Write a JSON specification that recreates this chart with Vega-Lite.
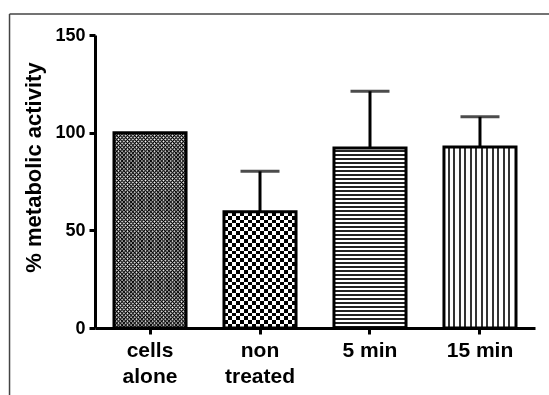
{
"$schema": "https://vega.github.io/schema/vega-lite/v6.json",
"width": 440,
"height": 293,
"autosize": {"type": "none"},
"padding": {"left": 95, "top": 35, "right": 14, "bottom": 67},
"background": "white",
"config": {
  "view": {"stroke": null},
  "font": "Liberation Sans",
  "axis": {"labelFont": "Liberation Sans", "titleFont": "Liberation Sans", "labelFontWeight": "bold", "titleFontWeight": "bold", "labelColor": "#000", "titleColor": "#000", "domainColor": "#000", "tickColor": "#000", "domainWidth": 3, "tickWidth": 3, "tickSize": 6, "grid": false}
},
"data": {"values": [
  {"cat": "cells alone", "value": 100},
  {"cat": "non treated", "value": 59.5, "upper": 80.2},
  {"cat": "5 min", "value": 92.2, "upper": 121.2},
  {"cat": "15 min", "value": 92.6, "upper": 108.1}
]},
"layer": [
 {
  "encoding": {
    "x": {"field": "cat", "type": "nominal", "title": null,
      "scale": {"domain": ["cells alone", "non treated", "5 min", "15 min"], "paddingInner": 0.345, "paddingOuter": 0.1727},
      "axis": {"labelAngle": 0, "labelFontSize": 21, "labelPadding": 5, "labelLineHeight": 26, "labelExpr": "datum.value == 'cells alone' ? ['cells', 'alone'] : datum.value == 'non treated' ? ['non', 'treated'] : datum.value"}},
    "y": {"field": "value", "type": "quantitative", "title": "% metabolic activity",
      "scale": {"domain": [0, 150], "nice": false},
      "axis": {"values": [0, 50, 100, 150], "labelFontSize": 18, "labelPadding": 4, "titleFontSize": 22, "titlePadding": 9, "titleY": 132}}
  },
  "layer": [
  {"transform": [{"filter": "datum.cat == 'cells alone'"}],
   "mark": {"type": "bar", "fill": {"gradient": "linear", "x1": 0, "y1": 0, "x2": 1, "y2": 0, "stops": [
     {"offset": 0.0125, "color": "#000"}, {"offset": 0.0375, "color": "#fff"}, {"offset": 0.0625, "color": "#000"}, {"offset": 0.0875, "color": "#fff"},
     {"offset": 0.1125, "color": "#000"}, {"offset": 0.1375, "color": "#fff"}, {"offset": 0.1625, "color": "#000"}, {"offset": 0.1875, "color": "#fff"},
     {"offset": 0.2125, "color": "#000"}, {"offset": 0.2375, "color": "#fff"}, {"offset": 0.2625, "color": "#000"}, {"offset": 0.2875, "color": "#fff"},
     {"offset": 0.3125, "color": "#000"}, {"offset": 0.3375, "color": "#fff"}, {"offset": 0.3625, "color": "#000"}, {"offset": 0.3875, "color": "#fff"},
     {"offset": 0.4125, "color": "#000"}, {"offset": 0.4375, "color": "#fff"}, {"offset": 0.4625, "color": "#000"}, {"offset": 0.4875, "color": "#fff"},
     {"offset": 0.5125, "color": "#000"}, {"offset": 0.5375, "color": "#fff"}, {"offset": 0.5625, "color": "#000"}, {"offset": 0.5875, "color": "#fff"},
     {"offset": 0.6125, "color": "#000"}, {"offset": 0.6375, "color": "#fff"}, {"offset": 0.6625, "color": "#000"}, {"offset": 0.6875, "color": "#fff"},
     {"offset": 0.7125, "color": "#000"}, {"offset": 0.7375, "color": "#fff"}, {"offset": 0.7625, "color": "#000"}, {"offset": 0.7875, "color": "#fff"},
     {"offset": 0.8125, "color": "#000"}, {"offset": 0.8375, "color": "#fff"}, {"offset": 0.8625, "color": "#000"}, {"offset": 0.8875, "color": "#fff"},
     {"offset": 0.9125, "color": "#000"}, {"offset": 0.9375, "color": "#fff"}, {"offset": 0.9625, "color": "#000"}, {"offset": 0.9875, "color": "#fff"}
   ]}}},
  {"transform": [{"filter": "datum.cat == 'cells alone'"}],
   "mark": {"type": "bar", "blend": "difference", "fill": {"gradient": "linear", "x1": 0, "y1": 0, "x2": 0, "y2": 1, "stops": [
     {"offset": 0.005, "color": "#000"}, {"offset": 0.015, "color": "#fff"}, {"offset": 0.025, "color": "#000"}, {"offset": 0.035, "color": "#fff"}, {"offset": 0.045, "color": "#000"}, {"offset": 0.055, "color": "#fff"}, {"offset": 0.065, "color": "#000"}, {"offset": 0.075, "color": "#fff"}, {"offset": 0.085, "color": "#000"}, {"offset": 0.095, "color": "#fff"},
     {"offset": 0.105, "color": "#000"}, {"offset": 0.115, "color": "#fff"}, {"offset": 0.125, "color": "#000"}, {"offset": 0.135, "color": "#fff"}, {"offset": 0.145, "color": "#000"}, {"offset": 0.155, "color": "#fff"}, {"offset": 0.165, "color": "#000"}, {"offset": 0.175, "color": "#fff"}, {"offset": 0.185, "color": "#000"}, {"offset": 0.195, "color": "#fff"},
     {"offset": 0.205, "color": "#000"}, {"offset": 0.215, "color": "#fff"}, {"offset": 0.225, "color": "#000"}, {"offset": 0.235, "color": "#fff"}, {"offset": 0.245, "color": "#000"}, {"offset": 0.255, "color": "#fff"}, {"offset": 0.265, "color": "#000"}, {"offset": 0.275, "color": "#fff"}, {"offset": 0.285, "color": "#000"}, {"offset": 0.295, "color": "#fff"},
     {"offset": 0.305, "color": "#000"}, {"offset": 0.315, "color": "#fff"}, {"offset": 0.325, "color": "#000"}, {"offset": 0.335, "color": "#fff"}, {"offset": 0.345, "color": "#000"}, {"offset": 0.355, "color": "#fff"}, {"offset": 0.365, "color": "#000"}, {"offset": 0.375, "color": "#fff"}, {"offset": 0.385, "color": "#000"}, {"offset": 0.395, "color": "#fff"},
     {"offset": 0.405, "color": "#000"}, {"offset": 0.415, "color": "#fff"}, {"offset": 0.425, "color": "#000"}, {"offset": 0.435, "color": "#fff"}, {"offset": 0.445, "color": "#000"}, {"offset": 0.455, "color": "#fff"}, {"offset": 0.465, "color": "#000"}, {"offset": 0.475, "color": "#fff"}, {"offset": 0.485, "color": "#000"}, {"offset": 0.495, "color": "#fff"},
     {"offset": 0.505, "color": "#000"}, {"offset": 0.515, "color": "#fff"}, {"offset": 0.525, "color": "#000"}, {"offset": 0.535, "color": "#fff"}, {"offset": 0.545, "color": "#000"}, {"offset": 0.555, "color": "#fff"}, {"offset": 0.565, "color": "#000"}, {"offset": 0.575, "color": "#fff"}, {"offset": 0.585, "color": "#000"}, {"offset": 0.595, "color": "#fff"},
     {"offset": 0.605, "color": "#000"}, {"offset": 0.615, "color": "#fff"}, {"offset": 0.625, "color": "#000"}, {"offset": 0.635, "color": "#fff"}, {"offset": 0.645, "color": "#000"}, {"offset": 0.655, "color": "#fff"}, {"offset": 0.665, "color": "#000"}, {"offset": 0.675, "color": "#fff"}, {"offset": 0.685, "color": "#000"}, {"offset": 0.695, "color": "#fff"},
     {"offset": 0.705, "color": "#000"}, {"offset": 0.715, "color": "#fff"}, {"offset": 0.725, "color": "#000"}, {"offset": 0.735, "color": "#fff"}, {"offset": 0.745, "color": "#000"}, {"offset": 0.755, "color": "#fff"}, {"offset": 0.765, "color": "#000"}, {"offset": 0.775, "color": "#fff"}, {"offset": 0.785, "color": "#000"}, {"offset": 0.795, "color": "#fff"},
     {"offset": 0.805, "color": "#000"}, {"offset": 0.815, "color": "#fff"}, {"offset": 0.825, "color": "#000"}, {"offset": 0.835, "color": "#fff"}, {"offset": 0.845, "color": "#000"}, {"offset": 0.855, "color": "#fff"}, {"offset": 0.865, "color": "#000"}, {"offset": 0.875, "color": "#fff"}, {"offset": 0.885, "color": "#000"}, {"offset": 0.895, "color": "#fff"},
     {"offset": 0.905, "color": "#000"}, {"offset": 0.915, "color": "#fff"}, {"offset": 0.925, "color": "#000"}, {"offset": 0.935, "color": "#fff"}, {"offset": 0.945, "color": "#000"}, {"offset": 0.955, "color": "#fff"}, {"offset": 0.965, "color": "#000"}, {"offset": 0.975, "color": "#fff"}, {"offset": 0.985, "color": "#000"}, {"offset": 0.995, "color": "#fff"}
   ]}}},
  {"transform": [{"filter": "datum.cat == 'non treated'"}],
   "mark": {"type": "bar", "fill": {"gradient": "linear", "x1": 0, "y1": 0, "x2": 1, "y2": 0, "stops": [
     {"offset": 0, "color": "#000"}, {"offset": 0.0556, "color": "#000"}, {"offset": 0.0556, "color": "#fff"}, {"offset": 0.1111, "color": "#fff"},
     {"offset": 0.1111, "color": "#000"}, {"offset": 0.1667, "color": "#000"}, {"offset": 0.1667, "color": "#fff"}, {"offset": 0.2222, "color": "#fff"},
     {"offset": 0.2222, "color": "#000"}, {"offset": 0.2778, "color": "#000"}, {"offset": 0.2778, "color": "#fff"}, {"offset": 0.3333, "color": "#fff"},
     {"offset": 0.3333, "color": "#000"}, {"offset": 0.3889, "color": "#000"}, {"offset": 0.3889, "color": "#fff"}, {"offset": 0.4444, "color": "#fff"},
     {"offset": 0.4444, "color": "#000"}, {"offset": 0.5, "color": "#000"}, {"offset": 0.5, "color": "#fff"}, {"offset": 0.5556, "color": "#fff"},
     {"offset": 0.5556, "color": "#000"}, {"offset": 0.6111, "color": "#000"}, {"offset": 0.6111, "color": "#fff"}, {"offset": 0.6667, "color": "#fff"},
     {"offset": 0.6667, "color": "#000"}, {"offset": 0.7222, "color": "#000"}, {"offset": 0.7222, "color": "#fff"}, {"offset": 0.7778, "color": "#fff"},
     {"offset": 0.7778, "color": "#000"}, {"offset": 0.8333, "color": "#000"}, {"offset": 0.8333, "color": "#fff"}, {"offset": 0.8889, "color": "#fff"},
     {"offset": 0.8889, "color": "#000"}, {"offset": 0.9444, "color": "#000"}, {"offset": 0.9444, "color": "#fff"}, {"offset": 1, "color": "#fff"}
   ]}}},
  {"transform": [{"filter": "datum.cat == 'non treated'"}],
   "mark": {"type": "bar", "blend": "difference", "fill": {"gradient": "linear", "x1": 0, "y1": 0, "x2": 0, "y2": 1, "stops": [
     {"offset": 0, "color": "#000"}, {"offset": 0.0333, "color": "#000"}, {"offset": 0.0333, "color": "#fff"}, {"offset": 0.0667, "color": "#fff"},
     {"offset": 0.0667, "color": "#000"}, {"offset": 0.1, "color": "#000"}, {"offset": 0.1, "color": "#fff"}, {"offset": 0.1333, "color": "#fff"},
     {"offset": 0.1333, "color": "#000"}, {"offset": 0.1667, "color": "#000"}, {"offset": 0.1667, "color": "#fff"}, {"offset": 0.2, "color": "#fff"},
     {"offset": 0.2, "color": "#000"}, {"offset": 0.2333, "color": "#000"}, {"offset": 0.2333, "color": "#fff"}, {"offset": 0.2667, "color": "#fff"},
     {"offset": 0.2667, "color": "#000"}, {"offset": 0.3, "color": "#000"}, {"offset": 0.3, "color": "#fff"}, {"offset": 0.3333, "color": "#fff"},
     {"offset": 0.3333, "color": "#000"}, {"offset": 0.3667, "color": "#000"}, {"offset": 0.3667, "color": "#fff"}, {"offset": 0.4, "color": "#fff"},
     {"offset": 0.4, "color": "#000"}, {"offset": 0.4333, "color": "#000"}, {"offset": 0.4333, "color": "#fff"}, {"offset": 0.4667, "color": "#fff"},
     {"offset": 0.4667, "color": "#000"}, {"offset": 0.5, "color": "#000"}, {"offset": 0.5, "color": "#fff"}, {"offset": 0.5333, "color": "#fff"},
     {"offset": 0.5333, "color": "#000"}, {"offset": 0.5667, "color": "#000"}, {"offset": 0.5667, "color": "#fff"}, {"offset": 0.6, "color": "#fff"},
     {"offset": 0.6, "color": "#000"}, {"offset": 0.6333, "color": "#000"}, {"offset": 0.6333, "color": "#fff"}, {"offset": 0.6667, "color": "#fff"},
     {"offset": 0.6667, "color": "#000"}, {"offset": 0.7, "color": "#000"}, {"offset": 0.7, "color": "#fff"}, {"offset": 0.7333, "color": "#fff"},
     {"offset": 0.7333, "color": "#000"}, {"offset": 0.7667, "color": "#000"}, {"offset": 0.7667, "color": "#fff"}, {"offset": 0.8, "color": "#fff"},
     {"offset": 0.8, "color": "#000"}, {"offset": 0.8333, "color": "#000"}, {"offset": 0.8333, "color": "#fff"}, {"offset": 0.8667, "color": "#fff"},
     {"offset": 0.8667, "color": "#000"}, {"offset": 0.9, "color": "#000"}, {"offset": 0.9, "color": "#fff"}, {"offset": 0.9333, "color": "#fff"},
     {"offset": 0.9333, "color": "#000"}, {"offset": 0.9667, "color": "#000"}, {"offset": 0.9667, "color": "#fff"}, {"offset": 1, "color": "#fff"}
   ]}}},
  {"transform": [{"filter": "datum.cat == '5 min'"}],
   "mark": {"type": "bar", "fill": {"gradient": "linear", "x1": 0, "y1": 0, "x2": 0, "y2": 1, "stops": [
     {"offset": 0, "color": "#fff"}, {"offset": 0.0133, "color": "#fff"}, {"offset": 0.0133, "color": "#222"}, {"offset": 0.0222, "color": "#222"},
     {"offset": 0.0222, "color": "#fff"}, {"offset": 0.0355, "color": "#fff"}, {"offset": 0.0355, "color": "#222"}, {"offset": 0.0444, "color": "#222"},
     {"offset": 0.0444, "color": "#fff"}, {"offset": 0.0577, "color": "#fff"}, {"offset": 0.0577, "color": "#222"}, {"offset": 0.0667, "color": "#222"},
     {"offset": 0.0667, "color": "#fff"}, {"offset": 0.08, "color": "#fff"}, {"offset": 0.08, "color": "#222"}, {"offset": 0.0889, "color": "#222"},
     {"offset": 0.0889, "color": "#fff"}, {"offset": 0.1022, "color": "#fff"}, {"offset": 0.1022, "color": "#222"}, {"offset": 0.1111, "color": "#222"},
     {"offset": 0.1111, "color": "#fff"}, {"offset": 0.1244, "color": "#fff"}, {"offset": 0.1244, "color": "#222"}, {"offset": 0.1333, "color": "#222"},
     {"offset": 0.1333, "color": "#fff"}, {"offset": 0.1466, "color": "#fff"}, {"offset": 0.1466, "color": "#222"}, {"offset": 0.1556, "color": "#222"},
     {"offset": 0.1556, "color": "#fff"}, {"offset": 0.1689, "color": "#fff"}, {"offset": 0.1689, "color": "#222"}, {"offset": 0.1778, "color": "#222"},
     {"offset": 0.1778, "color": "#fff"}, {"offset": 0.1911, "color": "#fff"}, {"offset": 0.1911, "color": "#222"}, {"offset": 0.2, "color": "#222"},
     {"offset": 0.2, "color": "#fff"}, {"offset": 0.2133, "color": "#fff"}, {"offset": 0.2133, "color": "#222"}, {"offset": 0.2222, "color": "#222"},
     {"offset": 0.2222, "color": "#fff"}, {"offset": 0.2355, "color": "#fff"}, {"offset": 0.2355, "color": "#222"}, {"offset": 0.2444, "color": "#222"},
     {"offset": 0.2444, "color": "#fff"}, {"offset": 0.2577, "color": "#fff"}, {"offset": 0.2577, "color": "#222"}, {"offset": 0.2667, "color": "#222"},
     {"offset": 0.2667, "color": "#fff"}, {"offset": 0.28, "color": "#fff"}, {"offset": 0.28, "color": "#222"}, {"offset": 0.2889, "color": "#222"},
     {"offset": 0.2889, "color": "#fff"}, {"offset": 0.3022, "color": "#fff"}, {"offset": 0.3022, "color": "#222"}, {"offset": 0.3111, "color": "#222"},
     {"offset": 0.3111, "color": "#fff"}, {"offset": 0.3244, "color": "#fff"}, {"offset": 0.3244, "color": "#222"}, {"offset": 0.3333, "color": "#222"},
     {"offset": 0.3333, "color": "#fff"}, {"offset": 0.3466, "color": "#fff"}, {"offset": 0.3466, "color": "#222"}, {"offset": 0.3556, "color": "#222"},
     {"offset": 0.3556, "color": "#fff"}, {"offset": 0.3689, "color": "#fff"}, {"offset": 0.3689, "color": "#222"}, {"offset": 0.3778, "color": "#222"},
     {"offset": 0.3778, "color": "#fff"}, {"offset": 0.3911, "color": "#fff"}, {"offset": 0.3911, "color": "#222"}, {"offset": 0.4, "color": "#222"},
     {"offset": 0.4, "color": "#fff"}, {"offset": 0.4133, "color": "#fff"}, {"offset": 0.4133, "color": "#222"}, {"offset": 0.4222, "color": "#222"},
     {"offset": 0.4222, "color": "#fff"}, {"offset": 0.4355, "color": "#fff"}, {"offset": 0.4355, "color": "#222"}, {"offset": 0.4444, "color": "#222"},
     {"offset": 0.4444, "color": "#fff"}, {"offset": 0.4577, "color": "#fff"}, {"offset": 0.4577, "color": "#222"}, {"offset": 0.4667, "color": "#222"},
     {"offset": 0.4667, "color": "#fff"}, {"offset": 0.48, "color": "#fff"}, {"offset": 0.48, "color": "#222"}, {"offset": 0.4889, "color": "#222"},
     {"offset": 0.4889, "color": "#fff"}, {"offset": 0.5022, "color": "#fff"}, {"offset": 0.5022, "color": "#222"}, {"offset": 0.5111, "color": "#222"},
     {"offset": 0.5111, "color": "#fff"}, {"offset": 0.5244, "color": "#fff"}, {"offset": 0.5244, "color": "#222"}, {"offset": 0.5333, "color": "#222"},
     {"offset": 0.5333, "color": "#fff"}, {"offset": 0.5466, "color": "#fff"}, {"offset": 0.5466, "color": "#222"}, {"offset": 0.5556, "color": "#222"},
     {"offset": 0.5556, "color": "#fff"}, {"offset": 0.5689, "color": "#fff"}, {"offset": 0.5689, "color": "#222"}, {"offset": 0.5778, "color": "#222"},
     {"offset": 0.5778, "color": "#fff"}, {"offset": 0.5911, "color": "#fff"}, {"offset": 0.5911, "color": "#222"}, {"offset": 0.6, "color": "#222"},
     {"offset": 0.6, "color": "#fff"}, {"offset": 0.6133, "color": "#fff"}, {"offset": 0.6133, "color": "#222"}, {"offset": 0.6222, "color": "#222"},
     {"offset": 0.6222, "color": "#fff"}, {"offset": 0.6355, "color": "#fff"}, {"offset": 0.6355, "color": "#222"}, {"offset": 0.6444, "color": "#222"},
     {"offset": 0.6444, "color": "#fff"}, {"offset": 0.6577, "color": "#fff"}, {"offset": 0.6577, "color": "#222"}, {"offset": 0.6667, "color": "#222"},
     {"offset": 0.6667, "color": "#fff"}, {"offset": 0.68, "color": "#fff"}, {"offset": 0.68, "color": "#222"}, {"offset": 0.6889, "color": "#222"},
     {"offset": 0.6889, "color": "#fff"}, {"offset": 0.7022, "color": "#fff"}, {"offset": 0.7022, "color": "#222"}, {"offset": 0.7111, "color": "#222"},
     {"offset": 0.7111, "color": "#fff"}, {"offset": 0.7244, "color": "#fff"}, {"offset": 0.7244, "color": "#222"}, {"offset": 0.7333, "color": "#222"},
     {"offset": 0.7333, "color": "#fff"}, {"offset": 0.7466, "color": "#fff"}, {"offset": 0.7466, "color": "#222"}, {"offset": 0.7556, "color": "#222"},
     {"offset": 0.7556, "color": "#fff"}, {"offset": 0.7689, "color": "#fff"}, {"offset": 0.7689, "color": "#222"}, {"offset": 0.7778, "color": "#222"},
     {"offset": 0.7778, "color": "#fff"}, {"offset": 0.7911, "color": "#fff"}, {"offset": 0.7911, "color": "#222"}, {"offset": 0.8, "color": "#222"},
     {"offset": 0.8, "color": "#fff"}, {"offset": 0.8133, "color": "#fff"}, {"offset": 0.8133, "color": "#222"}, {"offset": 0.8222, "color": "#222"},
     {"offset": 0.8222, "color": "#fff"}, {"offset": 0.8355, "color": "#fff"}, {"offset": 0.8355, "color": "#222"}, {"offset": 0.8444, "color": "#222"},
     {"offset": 0.8444, "color": "#fff"}, {"offset": 0.8577, "color": "#fff"}, {"offset": 0.8577, "color": "#222"}, {"offset": 0.8667, "color": "#222"},
     {"offset": 0.8667, "color": "#fff"}, {"offset": 0.88, "color": "#fff"}, {"offset": 0.88, "color": "#222"}, {"offset": 0.8889, "color": "#222"},
     {"offset": 0.8889, "color": "#fff"}, {"offset": 0.9022, "color": "#fff"}, {"offset": 0.9022, "color": "#222"}, {"offset": 0.9111, "color": "#222"},
     {"offset": 0.9111, "color": "#fff"}, {"offset": 0.9244, "color": "#fff"}, {"offset": 0.9244, "color": "#222"}, {"offset": 0.9333, "color": "#222"},
     {"offset": 0.9333, "color": "#fff"}, {"offset": 0.9466, "color": "#fff"}, {"offset": 0.9466, "color": "#222"}, {"offset": 0.9556, "color": "#222"},
     {"offset": 0.9556, "color": "#fff"}, {"offset": 0.9689, "color": "#fff"}, {"offset": 0.9689, "color": "#222"}, {"offset": 0.9778, "color": "#222"},
     {"offset": 0.9778, "color": "#fff"}, {"offset": 0.9911, "color": "#fff"}, {"offset": 0.9911, "color": "#222"}, {"offset": 1, "color": "#222"}
   ]}}},
  {"transform": [{"filter": "datum.cat == '15 min'"}],
   "mark": {"type": "bar", "fill": {"gradient": "linear", "x1": 0, "y1": 0, "x2": 1, "y2": 0, "stops": [
     {"offset": 0, "color": "#fff"},
     {"offset": 0.055, "color": "#fff"}, {"offset": 0.055, "color": "#333"}, {"offset": 0.083, "color": "#333"}, {"offset": 0.083, "color": "#fff"},
     {"offset": 0.1314, "color": "#fff"}, {"offset": 0.1314, "color": "#333"}, {"offset": 0.1594, "color": "#333"}, {"offset": 0.1594, "color": "#fff"},
     {"offset": 0.2078, "color": "#fff"}, {"offset": 0.2078, "color": "#333"}, {"offset": 0.2358, "color": "#333"}, {"offset": 0.2358, "color": "#fff"},
     {"offset": 0.2842, "color": "#fff"}, {"offset": 0.2842, "color": "#333"}, {"offset": 0.3122, "color": "#333"}, {"offset": 0.3122, "color": "#fff"},
     {"offset": 0.3606, "color": "#fff"}, {"offset": 0.3606, "color": "#333"}, {"offset": 0.3886, "color": "#333"}, {"offset": 0.3886, "color": "#fff"},
     {"offset": 0.437, "color": "#fff"}, {"offset": 0.437, "color": "#333"}, {"offset": 0.465, "color": "#333"}, {"offset": 0.465, "color": "#fff"},
     {"offset": 0.5134, "color": "#fff"}, {"offset": 0.5134, "color": "#333"}, {"offset": 0.5414, "color": "#333"}, {"offset": 0.5414, "color": "#fff"},
     {"offset": 0.5898, "color": "#fff"}, {"offset": 0.5898, "color": "#333"}, {"offset": 0.6178, "color": "#333"}, {"offset": 0.6178, "color": "#fff"},
     {"offset": 0.6662, "color": "#fff"}, {"offset": 0.6662, "color": "#333"}, {"offset": 0.6942, "color": "#333"}, {"offset": 0.6942, "color": "#fff"},
     {"offset": 0.7426, "color": "#fff"}, {"offset": 0.7426, "color": "#333"}, {"offset": 0.7706, "color": "#333"}, {"offset": 0.7706, "color": "#fff"},
     {"offset": 0.819, "color": "#fff"}, {"offset": 0.819, "color": "#333"}, {"offset": 0.847, "color": "#333"}, {"offset": 0.847, "color": "#fff"},
     {"offset": 0.8954, "color": "#fff"}, {"offset": 0.8954, "color": "#333"}, {"offset": 0.9234, "color": "#333"}, {"offset": 0.9234, "color": "#fff"},
     {"offset": 1, "color": "#fff"}
   ]}}},
  {"mark": {"type": "bar", "fill": "transparent", "stroke": "#000", "strokeWidth": 3}},
  {"transform": [{"filter": "isValid(datum.upper)"}],
   "mark": {"type": "rule", "color": "#000", "strokeWidth": 3},
   "encoding": {"y2": {"field": "upper"}}},
  {"transform": [{"filter": "isValid(datum.upper)"}],
   "mark": {"type": "tick", "color": "#000", "thickness": 3, "size": 39, "orient": "horizontal"},
   "encoding": {"y": {"field": "upper", "type": "quantitative", "title": "% metabolic activity"}}}
  ]
 },
 {"data": {"values": [
     {"fx": -0.277, "fx2": 5, "fy": 160.75, "fy2": 160.75},
     {"fx": -0.277, "fx2": -0.277, "fy": 160.75, "fy2": -40}
   ]},
   "mark": {"type": "rule", "color": "#444", "strokeWidth": 1.5},
   "encoding": {
     "x": {"field": "fx", "type": "quantitative", "scale": {"domain": [0.5, 4.5], "nice": false, "zero": false}, "axis": null},
     "x2": {"field": "fx2"},
     "y": {"field": "fy", "type": "quantitative", "title": "% metabolic activity"},
     "y2": {"field": "fy2"}
   }}
],
"resolve": {"scale": {"x": "independent"}}
}
